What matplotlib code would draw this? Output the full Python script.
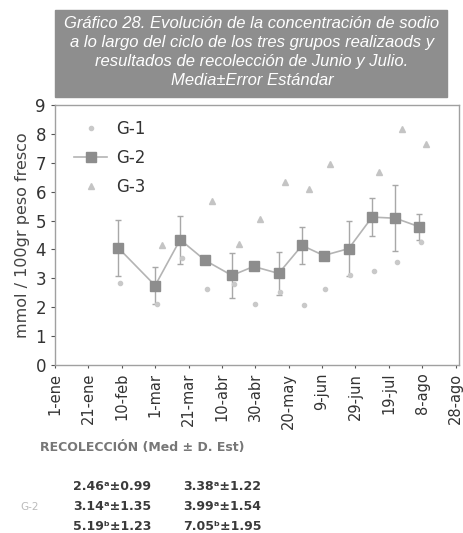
import matplotlib
matplotlib.use("Agg")
import matplotlib.pyplot as plt
import matplotlib.patches as mpatches
import numpy as np
import pandas as pd

# sampling dates (2004) and sodium values, mmol / 100 g fresh weight
fechas = pd.to_datetime(["2004-02-08", "2004-03-01", "2004-03-16", "2004-03-31",
                         "2004-04-16", "2004-04-29", "2004-05-14", "2004-05-28",
                         "2004-06-10", "2004-06-25", "2004-07-09", "2004-07-23",
                         "2004-08-06"])
g1 = [2.83, 2.12, 3.70, 2.62, 2.80, 2.10, 2.52, 2.07, 2.62, 3.10, 3.26, 3.55, 4.27]
g2 = [4.05, 2.75, 4.34, 3.62, 3.10, 3.41, 3.17, 4.14, 3.79, 4.03, 5.12, 5.08, 4.79]
g2_err = [0.97, 0.63, 0.83, 0.10, 0.78, 0.10, 0.75, 0.65, 0.10, 0.95, 0.65, 1.15, 0.45]
g3 = [np.nan, 4.14, np.nan, 5.66, 4.20, 5.07, 6.34, 6.10, 6.97, np.nan, 6.69, 8.17, 7.66]

tick_fechas = pd.date_range("2004-01-01", periods=13, freq="20D")
tick_labels = ["1-ene", "21-ene", "10-feb", "1-mar", "21-mar", "10-abr", "30-abr",
               "20-may", "9-jun", "29-jun", "19-jul", "8-ago", "28-ago"]

# summary table: mean, letter, sd for June and July harvests
tabla_junio = [(2.46, "a", 0.99), (3.14, "a", 1.35), (5.19, "b", 1.23)]
tabla_julio = [(3.38, "a", 1.22), (3.99, "a", 1.54), (7.05, "b", 1.95)]
sup = {"a": "\u1d43", "b": "\u1d47"}

fig = plt.figure(figsize=(4.64, 5.33), dpi=100)
ax = fig.add_axes([0.1185, 0.3152, 0.8705, 0.4878])

ax.errorbar(fechas, g2, yerr=g2_err, fmt="none", ecolor="#a8a8a8",
            elinewidth=1, capsize=2)
ax.plot(fechas + pd.Timedelta(days=1), g1, ls="none", marker="o", ms=3,
        color="#c9c9c9", label="G-1")
ax.plot(fechas, g2, color="#b4b4b4", lw=1.2, marker="s", ms=7.5,
        mfc="#8d8d8d", mec="#8d8d8d", label="G-2")
ax.plot(fechas + pd.Timedelta(days=4), g3, ls="none", marker="^", ms=4,
        color="#c4c4c4", label="G-3")

ax.set_ylim(0, 9)
ax.set_yticks(range(10))
ax.set_xlim(pd.Timestamp("2004-01-01"), pd.Timestamp("2004-08-30"))
ax.set_xticks(tick_fechas)
ax.set_xticklabels(tick_labels, rotation=90, fontsize=10.5, color="#333333")
ax.tick_params(axis="y", labelsize=12, labelcolor="#333333", length=3, color="#555555")
ax.tick_params(axis="x", length=2, color="#555555")
for s in ax.spines.values():
    s.set_color("#a0a0a0")
    s.set_linewidth(1)
ax.set_ylabel("mmol / 100gr peso fresco", fontsize=11.5, color="#444444", labelpad=4)

ax.legend(loc="upper left", bbox_to_anchor=(0.01, 1.0),
          frameon=False, fontsize=12, labelspacing=0.65, handlelength=2.0,
          handletextpad=0.5, labelcolor="#333333")

# grey title box
fig.patches.append(mpatches.Rectangle((55 / 464, 1 - 97 / 533), 392 / 464, 87 / 533,
                                      transform=fig.transFigure, color="#8e8e8e"))
titulo = ("Gráfico 28. Evolución de la concentración de sodio\n"
          "a lo largo del ciclo de los tres grupos realizaods y\n"
          "resultados de recolección de Junio y Julio.\n"
          "Media\u00b1Error Estándar")
fig.text(252 / 464, 1 - 52 / 533, titulo, ha="center", va="center", color="white",
         fontsize=12, style="italic", family="Liberation Sans", linespacing=1.35)

fig.text(40 / 464, 1 - 448 / 533, "RECOLECCIÓN (Med \u00b1 D. Est)", ha="left",
         va="center", fontsize=9, weight="bold", color="#777777")

filas_y = [486, 507, 526]
for i, y in enumerate(filas_y):
    for x, fila in ((73, tabla_junio), (183, tabla_julio)):
        m, letra, sd = fila[i]
        fig.text(x / 464, 1 - y / 533, f"{m:.2f}{sup[letra]}\u00b1{sd:.2f}",
                 ha="left", va="center", fontsize=9, weight="bold", color="#3a3a3a")
fig.text(20 / 464, 1 - 507 / 533, "G-2", ha="left", va="center", fontsize=7.5,
         color="#bbbbbb")

fig.savefig("out.png", dpi=100)
